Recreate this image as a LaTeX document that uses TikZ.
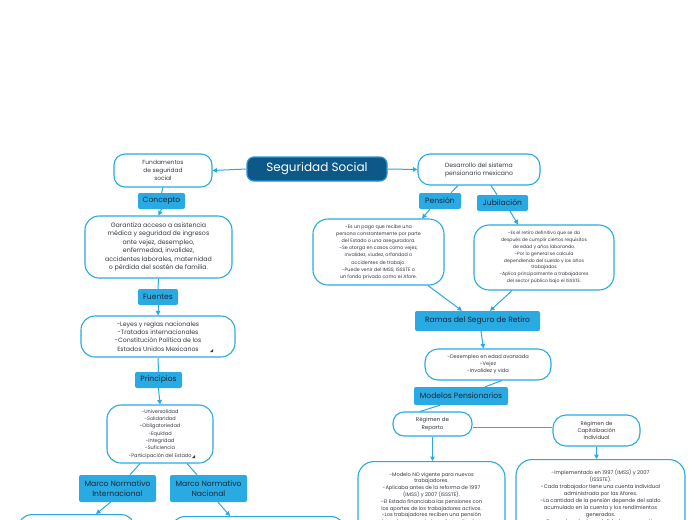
\documentclass[tikz,border=0pt]{standalone}
\usepackage{fontspec}
\setmainfont{Poppins}
\usetikzlibrary{
  arrows.meta,
  positioning
}
\definecolor{hubblue}{RGB}{12,88,136}
\definecolor{hubedge}{RGB}{40,150,214}
\definecolor{tagblue}{RGB}{41,170,226}
\definecolor{linkblue}{RGB}{41,170,226}
\definecolor{inktext}{RGB}{52,56,64}
\definecolor{tagtext}{RGB}{24,40,56}

\begin{document}
\begin{tikzpicture}[x=1pt, y=-1pt, >={Triangle[length=4.5pt, width=4.5pt]},
  bubble/.style={draw=linkblue, line width=1.1pt, fill=white, rounded corners=11pt,
    align=center, text=inktext, inner sep=0pt},
  tagbox/.style={fill=tagblue, rounded corners=2pt, align=center, text=tagtext,
    inner sep=0pt, font={\fontsize{7.6}{9.5}\selectfont}},
  link/.style={draw=linkblue, line width=1pt}]

  \useasboundingbox (0,0) rectangle (697,520);
  \clip (0,0) rectangle (697,520);
  \fill[white] (0,0) rectangle (697,520);

  % -- central topic --
  \node[fill=hubblue, draw=hubedge, line width=1.2pt, rounded corners=7pt, text=white,
        minimum width=140pt, minimum height=24pt, inner sep=0pt,
        font={\fontsize{12}{14}\selectfont}] (hub) at (317,169) {Seguridad Social};

  % -- left branch: fundamentos --
  \node[bubble, minimum width=98pt, minimum height=33pt, font={\fontsize{5.9}{8}\selectfont}]
    (fund) at (163,170.5) {Fundamentos\\de seguridad\\social};
  \node[tagbox, minimum width=47pt, minimum height=16pt] (concepto) at (161.5,201) {Concepto};
  \node[bubble, minimum width=147pt, minimum height=62pt, rounded corners=14pt,
        font={\fontsize{6.3}{8.5}\selectfont}] (garantiza) at (158.5,247)
    {Garantiza acceso a asistencia\\médica y seguridad de ingresos\\ante vejez, desempleo,\\
     enfermedad, invalidez,\\accidentes laborales, maternidad\\o pérdida del sostén de familia.};
  \node[tagbox, minimum width=40pt, minimum height=16pt] (fuentes) at (158,297) {Fuentes};
  \node[bubble, minimum width=154pt, minimum height=41pt, rounded corners=14pt,
        font={\fontsize{6.2}{8.3}\selectfont}] (leyes) at (158,336.5)
    {-Leyes y reglas nacionales\\-Tratados internacionales\\-Constitución Política de los\\
     Estados Unidos Mexicanos};
  \fill[inktext] (210,352) -- (213,352) -- (213,349) -- cycle;
  \node[tagbox, minimum width=47pt, minimum height=16pt] (principios) at (158.5,380) {Principios};
  \node[bubble, minimum width=106pt, minimum height=58pt, rounded corners=14pt,
        font={\fontsize{5}{7.3}\selectfont}] (valores) at (160,434)
    {-Universalidad\\-Solidaridad\\-Obligatoriedad\\-Equidad\\-Integridad\\-Suficiencia\\
     -Participación del Estado};
  \fill[inktext] (192,458) -- (195,458) -- (195,455) -- cycle;
  \node[tagbox, minimum width=77pt, minimum height=27pt] (mni) at (117.5,488.5)
    {Marco Normativo\\Internacional};
  \node[tagbox, minimum width=77pt, minimum height=27pt] (mnn) at (208.5,488.5)
    {Marco Normativo\\Nacional};
  \node[bubble, minimum width=117pt, minimum height=40pt, rounded corners=14pt,
        anchor=north] (intl) at (76.5,514) {};
  \node[bubble, minimum width=174pt, minimum height=40pt, rounded corners=14pt,
        anchor=north] (nacl) at (258,516) {};

  % -- right branch: desarrollo --
  \node[bubble, minimum width=122pt, minimum height=31pt, rounded corners=12pt,
        font={\fontsize{6.1}{8}\selectfont}] (desarrollo) at (479,169.5)
    {Desarrollo del sistema\\pensionario mexicano};
  \node[tagbox, minimum width=42pt, minimum height=16pt] (pension) at (440,201) {Pensión};
  \node[tagbox, minimum width=51pt, minimum height=16pt] (jubilacion) at (502.5,203) {Jubilación};
  \node[bubble, minimum width=131pt, minimum height=66pt, rounded corners=15pt,
        font={\fontsize{4.8}{7.2}\selectfont}] (pnode) at (378.5,252)
    {-Es un pago que recibe una\\persona constantemente por parte\\del Estado o una aseguradora.\\
     -Se otorga en casos como vejez,\\invalidez, viudez, orfandad o\\accidentes de trabajo.\\
     -Puede venir del IMSS, ISSSTE o\\un fondo privado como el Afore.};
  \node[bubble, minimum width=140pt, minimum height=65pt, rounded corners=15pt,
        font={\fontsize{4.6}{6.8}\selectfont}] (jnode) at (544,257.5)
    {-Es el retiro definitivo que se da\\después de cumplir ciertos requisitos\\
     de edad y años laborando.\\-Por lo general se calcula\\dependiendo del sueldo y los años\\
     trabajados\\-Aplica principalmente a trabajadores\\del sector público bajo el ISSSTE.};
  \node[tagbox, minimum width=125pt, minimum height=20pt] (ramas) at (477.5,321)
    {Ramas del Seguro de Retiro};
  \node[bubble, minimum width=126pt, minimum height=31pt, rounded corners=13pt,
        font={\fontsize{5.1}{7}\selectfont}] (rnode) at (488,364.5)
    {-Desempleo en edad avanzada\\-Vejez\\-Invalidez y vida};
  \node[tagbox, minimum width=94pt, minimum height=18pt] (modelos) at (461,396)
    {Modelos Pensionarios};
  \node[bubble, minimum width=79pt, minimum height=24pt, rounded corners=11pt,
        font={\fontsize{5.5}{7.5}\selectfont}] (reparto) at (432.5,424)
    {Régimen de\\Reparto};
  \node[bubble, minimum width=87pt, minimum height=31pt, rounded corners=13pt,
        font={\fontsize{5.3}{7}\selectfont}] (capital) at (596.5,430.5)
    {Régimen de\\Capitalización\\Individual};
  \node[bubble, minimum width=147pt, minimum height=74pt, rounded corners=16pt,
        anchor=north, font={\fontsize{5.1}{6.8}\selectfont}] (repnode) at (431.5,461)
    {-Modelo NO vigente para nuevos\\trabajadores.\\-Aplicaba antes de la reforma de 1997\\
     (IMSS) y 2007 (ISSSTE).\\-El Estado financiaba las pensiones con\\
     los aportes de los trabajadores activos.\\-Los trabajadores reciben una pensión\\
     basada en su salario y años cotizados.};
  \node[bubble, minimum width=169pt, minimum height=76pt, rounded corners=16pt,
        anchor=north, font={\fontsize{5.2}{7}\selectfont}] (capnode) at (600.5,459)
    {-Implementado en 1997 (IMSS) y 2007\\(ISSSTE).\\-Cada trabajador tiene una cuenta individual\\
     administrada por las Afores.\\-La cantidad de la pensión depende del saldo\\
     acumulado en la cuenta y los rendimientos\\generados.\\-Se pueden elegir modalidades como retiro};

  % -- connectors --
  \draw[link,->] (hub.west) -- (fund.east);
  \draw[link,->] (hub.east) -- (desarrollo.west);

  \draw[link] (fund.south) -- (concepto.north);
  \draw[link,->] (concepto.south) -- (garantiza.north);
  \draw[link] (garantiza.south) -- (fuentes.north);
  \draw[link,->] (fuentes.south) -- (leyes.north);
  \draw[link] (leyes.south) -- (principios.north);
  \draw[link,->] (principios.south) -- (valores.north);
  \draw[link] ([xshift=-20pt]valores.south) -- ([xshift=12.5pt]mni.north);
  \draw[link] ([xshift=27pt]valores.south) -- ([xshift=-11.5pt]mnn.north);
  \draw[link,->] ([xshift=-7pt]mni.south) -- ([xshift=19.5pt]intl.north);
  \draw[link,->] ([xshift=9.5pt]mnn.south) -- ([xshift=-28pt]nacl.north);

  \draw[link] ([xshift=-21pt]desarrollo.south) -- ([xshift=11pt]pension.north);
  \draw[link] ([xshift=12pt]desarrollo.south) -- ([xshift=-5.5pt]jubilacion.north);
  \draw[link,->] ([xshift=-10pt]pension.south) -- ([xshift=43.5pt]pnode.north);
  \draw[link,->] ([xshift=7.5pt]jubilacion.south) -- ([xshift=-26pt]jnode.north);
  \draw[link,->] ([xshift=49.5pt]pnode.south) -- ([xshift=-15.5pt]ramas.north);
  \draw[link,->] ([xshift=-32pt]jnode.south) -- ([xshift=12.5pt]ramas.north);
  \draw[link,->] ([xshift=3.5pt]ramas.south) -- ([xshift=-4.5pt]rnode.north);
  \draw[link] ([xshift=14pt]rnode.south) -- ([xshift=24pt]modelos.north);
  \draw[link] ([xshift=-21pt]modelos.south) -- ([xshift=-12.5pt]reparto.north);
  \draw[link] ([yshift=-3pt]reparto.east) -- ([yshift=-3pt]reparto.east -| capital.west);
  \draw[link,->] (reparto.south) -- (reparto.south |- repnode.north);
  \draw[link,->] (capital.south) -- (capital.south |- capnode.north);

\end{tikzpicture}
\end{document}
